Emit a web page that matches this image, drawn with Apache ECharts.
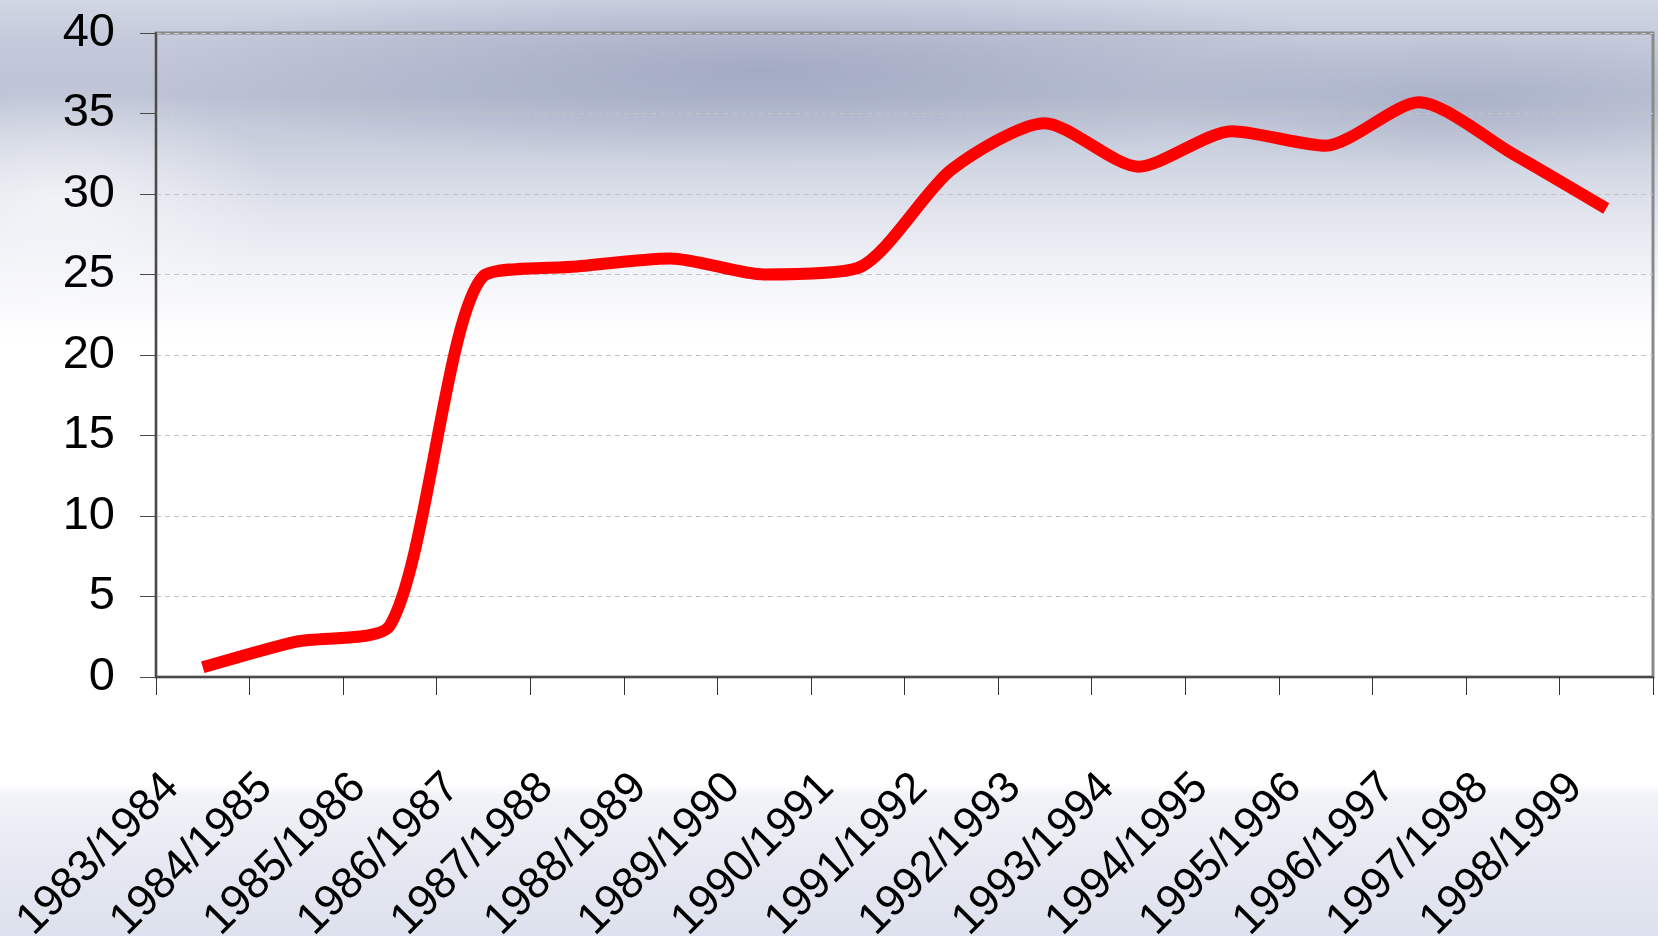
<!DOCTYPE html>
<html>
<head>
<meta charset="utf-8">
<title>Chart</title>
<script src="https://cdn.jsdelivr.net/npm/echarts@6/dist/echarts.min.js"></script>
<style>
  html, body {
    margin: 0;
    padding: 0;
    width: 1658px;
    height: 936px;
    overflow: hidden;
  }
  body {
    background:
      radial-gradient(ellipse 620px 95px at 760px 70px, rgba(140,148,178,0.55), rgba(140,148,178,0) 100%),
      radial-gradient(ellipse 320px 70px at 1460px 100px, rgba(150,158,186,0.45), rgba(150,158,186,0) 100%),
      radial-gradient(ellipse 220px 120px at 60px 200px, rgba(255,255,255,0.6), rgba(255,255,255,0) 100%),
      linear-gradient(to bottom, #d2d7e5 0px, #c4cadb 40px, #bcc3d5 95px, #ccd1df 150px, #e2e5ee 215px,
        #f3f4f9 275px, #ffffff 340px, #ffffff 785px, #f1f3f8 795px, #e6e9f2 860px, #dde1ed 936px);
  }
  #chart {
    width: 1658px;
    height: 936px;
  }
</style>
</head>
<body>
<div id="chart"></div>
<script>
// seasons on the x axis
const seasons = [
  '1983/1984', '1984/1985', '1985/1986', '1986/1987', '1987/1988', '1988/1989',
  '1989/1990', '1990/1991', '1991/1992', '1992/1993', '1993/1994', '1994/1995',
  '1995/1996', '1996/1997', '1997/1998', '1998/1999'
];
// values, one per season
const values = [0.6, 2.2, 3.2, 24.9, 25.5, 26.0, 25.0, 25.4, 31.5, 34.4, 31.7, 33.9, 33.0, 35.7, 32.5, 29.1];
// y axis range
const yMin = 0;
const yMax = 40;
const yStep = 5;

const labelFont = "'Liberation Sans', Arial, sans-serif";

const chart = echarts.init(document.getElementById('chart'));

const option = {
  backgroundColor: 'transparent',
  animation: false,
  grid: {
    left: 156,
    right: 5,
    top: 33,
    bottom: 259,
    outerBoundsMode: 'none',
    containLabel: false,
    show: true,
    borderColor: '#8a8a8a',
    borderWidth: 3,
    backgroundColor: 'transparent'
  },
  xAxis: [
    {
      // category axis carries the line and the boundary ticks
      type: 'category',
      data: seasons,
      boundaryGap: true,
      position: 'bottom',
      axisLine: { show: true, lineStyle: { color: '#4a4a4a', width: 2 } },
      axisTick: { show: true, length: 18, lineStyle: { color: '#333', width: 1 } },
      axisLabel: { show: false },
      splitLine: { show: false }
    },
    {
      // label axis: names hang just right of the left boundary of each season
      type: 'value',
      position: 'bottom',
      min: 0,
      max: seasons.length,
      interval: 1,
      axisLine: { show: false },
      axisTick: { show: false },
      splitLine: { show: false },
      axisLabel: {
        rotate: 45,
        margin: 88,
        fontSize: 44,
        lineHeight: 45,
        verticalAlign: 'top',
        fontFamily: labelFont,
        color: '#000',
        hideOverlap: false,
        formatter: (v) => seasons[v] || ''
      }
    }
  ],
  yAxis: {
    type: 'value',
    min: yMin,
    max: yMax,
    interval: yStep,
    axisLine: { show: true, lineStyle: { color: '#4a4a4a', width: 2 } },
    axisTick: { show: true, length: 16, lineStyle: { color: '#4a4a4a', width: 1 } },
    axisLabel: {
      margin: 41,
      fontSize: 47,
      fontFamily: labelFont,
      color: '#000'
    },
    splitLine: {
      show: true,
      lineStyle: { color: '#c4c4c4', width: 1, type: [5, 4] }
    }
  },
  series: [
    {
      type: 'line',
      xAxisIndex: 0,
      yAxisIndex: 0,
      data: values,
      smooth: 0.25,
      symbol: 'none',
      lineStyle: { color: '#ff0000', width: 12, cap: 'butt', join: 'round' },
      z: 5
    }
  ]
};

chart.setOption(option);
window.addEventListener('resize', () => chart.resize());
</script>
</body>
</html>
